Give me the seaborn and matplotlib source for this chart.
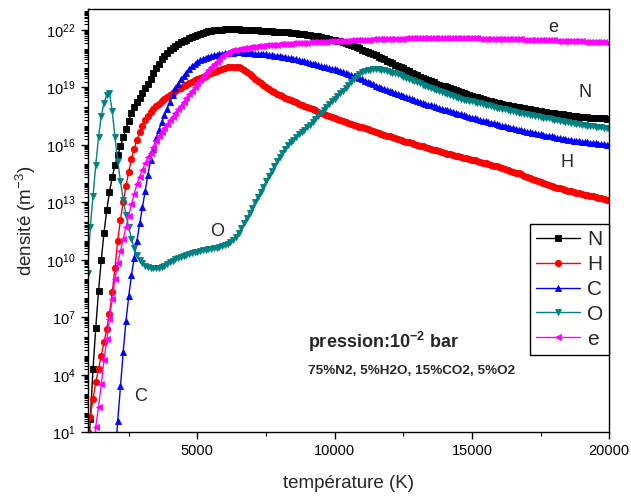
import numpy as np
import pandas as pd
import matplotlib
matplotlib.use("Agg")
import matplotlib.pyplot as plt
import seaborn as sns
from matplotlib.ticker import FixedLocator, LogFormatterSciNotation, NullFormatter

# temperature grid (K), 100 K sampling as in the source plot
temperature = np.arange(1000, 20001, 100)

nan = np.nan
# log10 of the densities (m^-3)
log_N = [
    -1.0, 1.7, 4.3, 6.45, 8.35, 10.0, 11.4, 12.6, 13.55, 14.3,
    14.95, 15.45, 15.92, 16.4, 16.85, 17.25, 17.65, 17.97, 18.22, 18.47,
    18.72, 18.97, 19.2, 19.45, 19.75, 20.0, 20.25, 20.47, 20.65, 20.8,
    20.93, 21.05, 21.16, 21.26, 21.35, 21.43, 21.5, 21.57, 21.64, 21.7,
    21.76, 21.81, 21.86, 21.9, 21.93, 21.96, 21.98, 22.0, 22.01, 22.02,
    22.03, 22.03, 22.03, 22.03, 22.03, 22.03, 22.02, 22.02, 22.01, 22.0,
    22.0, 21.99, 21.98, 21.97, 21.96, 21.95, 21.94, 21.93, 21.92, 21.91,
    21.9, 21.89, 21.88, 21.87, 21.86, 21.85, 21.83, 21.81, 21.79, 21.77,
    21.75, 21.73, 21.71, 21.69, 21.66, 21.63, 21.6, 21.57, 21.54, 21.5,
    21.47, 21.44, 21.4, 21.36, 21.31, 21.26, 21.21, 21.16, 21.1, 21.04,
    20.98, 20.92, 20.86, 20.8, 20.73, 20.67, 20.61, 20.54, 20.47, 20.4,
    20.33, 20.26, 20.19, 20.12, 20.06, 19.99, 19.92, 19.85, 19.78, 19.71,
    19.64, 19.57, 19.5, 19.44, 19.38, 19.32, 19.26, 19.2, 19.15, 19.1,
    19.05, 19.0, 18.95, 18.9, 18.85, 18.8, 18.76, 18.71, 18.66, 18.61,
    18.56, 18.52, 18.48, 18.43, 18.39, 18.35, 18.31, 18.28, 18.24, 18.21,
    18.17, 18.14, 18.11, 18.08, 18.05, 18.02, 17.99, 17.96, 17.94, 17.91,
    17.88, 17.86, 17.83, 17.81, 17.78, 17.76, 17.74, 17.71, 17.69, 17.67,
    17.65, 17.63, 17.61, 17.59, 17.57, 17.55, 17.53, 17.51, 17.49, 17.47,
    17.46, 17.45, 17.44, 17.43, 17.42, 17.41, 17.4, 17.39, 17.38, 17.37,
    17.36,
]
log_H = [
    1.0, 1.8, 2.75, 3.6, 4.3, 5.0, 5.7, 6.4, 7.2, 8.3,
    9.6, 11.0, 12.1, 13.0, 13.85, 14.6, 15.25, 15.8, 16.25, 16.65,
    17.0, 17.3, 17.52, 17.72, 17.88, 18.02, 18.15, 18.27, 18.38, 18.5,
    18.6, 18.7, 18.8, 18.9, 18.98, 19.06, 19.14, 19.22, 19.3, 19.37,
    19.44, 19.5, 19.56, 19.62, 19.68, 19.74, 19.8, 19.86, 19.92, 19.97,
    20.02, 20.06, 20.08, 20.09, 20.08, 20.05, 20.0, 19.92, 19.82, 19.7,
    19.58, 19.46, 19.35, 19.24, 19.13, 19.03, 18.93, 18.84, 18.75, 18.67,
    18.6, 18.53, 18.46, 18.4, 18.34, 18.28, 18.22, 18.16, 18.1, 18.04,
    17.98, 17.92, 17.86, 17.8, 17.74, 17.68, 17.62, 17.56, 17.5, 17.44,
    17.39, 17.34, 17.29, 17.24, 17.19, 17.14, 17.09, 17.05, 17.0, 16.96,
    16.91, 16.86, 16.82, 16.77, 16.72, 16.67, 16.62, 16.58, 16.53, 16.48,
    16.44, 16.39, 16.35, 16.3, 16.26, 16.22, 16.17, 16.13, 16.09, 16.05,
    16.0, 15.96, 15.92, 15.88, 15.83, 15.79, 15.75, 15.71, 15.67, 15.63,
    15.59, 15.55, 15.51, 15.48, 15.44, 15.4, 15.37, 15.33, 15.3, 15.26,
    15.22, 15.19, 15.15, 15.12, 15.08, 15.04, 15.0, 14.96, 14.92, 14.88,
    14.84, 14.8, 14.75, 14.71, 14.66, 14.61, 14.56, 14.51, 14.46, 14.4,
    14.34, 14.28, 14.22, 14.16, 14.1, 14.05, 14.0, 13.95, 13.9, 13.85,
    13.81, 13.77, 13.73, 13.69, 13.65, 13.61, 13.57, 13.54, 13.5, 13.47,
    13.44, 13.41, 13.38, 13.34, 13.31, 13.28, 13.24, 13.21, 13.17, 13.14,
    13.1,
]
log_C = [
    nan, nan, nan, nan, nan, nan, nan, nan, nan, nan,
    -0.5, 1.6, 3.4, 5.2, 6.8, 8.1, 9.2, 10.1, 11.0, 11.9,
    12.75, 13.6, 14.45, 15.2, 15.8, 16.35, 16.8, 17.2, 17.55, 17.9,
    18.25, 18.6, 18.95, 19.2, 19.42, 19.6, 19.78, 19.95, 20.1, 20.22,
    20.33, 20.42, 20.5, 20.56, 20.61, 20.65, 20.68, 20.71, 20.74, 20.76,
    20.78, 20.8, 20.81, 20.82, 20.83, 20.83, 20.83, 20.82, 20.81, 20.8,
    20.79, 20.77, 20.76, 20.74, 20.73, 20.72, 20.7, 20.68, 20.66, 20.64,
    20.62, 20.6, 20.58, 20.55, 20.52, 20.49, 20.46, 20.43, 20.4, 20.37,
    20.33, 20.29, 20.25, 20.21, 20.17, 20.13, 20.09, 20.05, 20.01, 19.97,
    19.94, 19.91, 19.88, 19.83, 19.77, 19.7, 19.64, 19.59, 19.54, 19.48,
    19.42, 19.35, 19.29, 19.22, 19.16, 19.09, 19.03, 18.98, 18.92, 18.87,
    18.81, 18.76, 18.71, 18.65, 18.6, 18.55, 18.5, 18.45, 18.4, 18.35,
    18.3, 18.25, 18.2, 18.16, 18.11, 18.06, 18.02, 17.97, 17.92, 17.88,
    17.84, 17.8, 17.76, 17.72, 17.68, 17.64, 17.6, 17.56, 17.51, 17.47,
    17.43, 17.39, 17.34, 17.3, 17.26, 17.23, 17.19, 17.15, 17.12, 17.08,
    17.04, 17.0, 16.97, 16.93, 16.9, 16.86, 16.83, 16.79, 16.76, 16.73,
    16.7, 16.67, 16.64, 16.61, 16.58, 16.55, 16.52, 16.49, 16.46, 16.44,
    16.41, 16.38, 16.35, 16.33, 16.3, 16.28, 16.25, 16.23, 16.2, 16.18,
    16.16, 16.15, 16.13, 16.11, 16.1, 16.08, 16.06, 16.05, 16.03, 16.02,
    16.0,
]
log_O = [
    9.3, 11.7, 13.35, 14.95, 16.4, 17.5, 18.2, 18.6, 18.72, 17.75,
    16.4, 15.15, 14.1, 13.15, 12.35, 11.7, 11.1, 10.6, 10.25, 10.0,
    9.82, 9.7, 9.62, 9.57, 9.55, 9.55, 9.57, 9.62, 9.7, 9.78,
    9.87, 9.95, 10.03, 10.1, 10.16, 10.22, 10.27, 10.32, 10.36, 10.4,
    10.43, 10.46, 10.49, 10.52, 10.55, 10.58, 10.61, 10.64, 10.67, 10.71,
    10.76, 10.83, 10.92, 11.05, 11.22, 11.42, 11.65, 11.9, 12.17, 12.45,
    12.73, 13.0, 13.28, 13.55, 13.82, 14.1, 14.38, 14.65, 14.9, 15.14,
    15.38, 15.6, 15.8, 15.97, 16.13, 16.28, 16.42, 16.55, 16.68, 16.8,
    16.92, 17.05, 17.18, 17.33, 17.5, 17.67, 17.82, 17.97, 18.12, 18.27,
    18.42, 18.56, 18.7, 18.84, 18.98, 19.12, 19.28, 19.45, 19.6, 19.72,
    19.8, 19.86, 19.9, 19.93, 19.95, 19.95, 19.94, 19.92, 19.9, 19.87,
    19.83, 19.78, 19.73, 19.68, 19.63, 19.57, 19.51, 19.45, 19.39, 19.33,
    19.27, 19.21, 19.15, 19.09, 19.03, 18.97, 18.91, 18.85, 18.79, 18.74,
    18.69, 18.64, 18.59, 18.54, 18.49, 18.45, 18.41, 18.37, 18.34, 18.3,
    18.27, 18.24, 18.2, 18.17, 18.13, 18.1, 18.06, 18.02, 17.99, 17.95,
    17.91, 17.88, 17.85, 17.81, 17.78, 17.75, 17.72, 17.69, 17.66, 17.63,
    17.6, 17.57, 17.54, 17.52, 17.49, 17.46, 17.43, 17.4, 17.38, 17.35,
    17.32, 17.29, 17.26, 17.23, 17.21, 17.18, 17.15, 17.13, 17.1, 17.08,
    17.05, 17.03, 17.01, 16.99, 16.97, 16.95, 16.93, 16.91, 16.89, 16.87,
    16.85,
]
log_e = [
    nan, nan, -1.0, 1.3, 2.3, 3.5, 4.75, 5.85, 6.9, 7.95,
    9.0, 9.85, 10.45, 11.1, 11.7, 12.3, 12.9, 13.45, 13.95, 14.35,
    14.7, 15.05, 15.35, 15.6, 15.9, 16.2, 16.45, 16.7, 16.9, 17.1,
    17.3, 17.48, 17.67, 17.86, 18.05, 18.25, 18.45, 18.64, 18.83, 19.02,
    19.21, 19.4, 19.57, 19.74, 19.9, 20.05, 20.2, 20.35, 20.5, 20.62,
    20.73, 20.82, 20.88, 20.93, 20.97, 21.0, 21.03, 21.05, 21.07, 21.09,
    21.11, 21.13, 21.14, 21.16, 21.17, 21.19, 21.2, 21.21, 21.22, 21.24,
    21.25, 21.26, 21.27, 21.28, 21.29, 21.3, 21.31, 21.31, 21.32, 21.33,
    21.34, 21.35, 21.35, 21.36, 21.37, 21.38, 21.39, 21.39, 21.4, 21.41,
    21.42, 21.42, 21.43, 21.44, 21.44, 21.45, 21.46, 21.46, 21.47, 21.47,
    21.48, 21.49, 21.5, 21.5, 21.51, 21.52, 21.52, 21.53, 21.53, 21.54,
    21.54, 21.54, 21.55, 21.55, 21.55, 21.55, 21.56, 21.56, 21.56, 21.56,
    21.56, 21.56, 21.56, 21.56, 21.56, 21.56, 21.56, 21.56, 21.56, 21.56,
    21.56, 21.56, 21.56, 21.56, 21.56, 21.56, 21.56, 21.56, 21.56, 21.56,
    21.56, 21.56, 21.56, 21.55, 21.55, 21.55, 21.55, 21.54, 21.54, 21.54,
    21.54, 21.53, 21.53, 21.53, 21.52, 21.52, 21.52, 21.51, 21.51, 21.5,
    21.5, 21.5, 21.49, 21.49, 21.48, 21.48, 21.48, 21.47, 21.47, 21.46,
    21.46, 21.45, 21.45, 21.44, 21.44, 21.43, 21.42, 21.42, 21.41, 21.41,
    21.4, 21.39, 21.39, 21.38, 21.37, 21.37, 21.36, 21.35, 21.35, 21.34,
    21.34,
]

species = ["N", "H", "C", "O", "e"]
series = [log_N, log_H, log_C, log_O, log_e]
colors = ["#000000", "#ff0000", "#0000ff", "#008080", "#ff00ff"]
markers = ["s", "o", "^", "v", "<"]
msizes = [4.2, 4.6, 4.8, 4.8, 4.8]

frames = []
for sp, vals in zip(species, series):
    frames.append(pd.DataFrame({"species": sp, "T": temperature,
                                "n": np.power(10.0, np.asarray(vals, dtype=float))}))
df = pd.concat(frames, ignore_index=True)

sns.set_theme(style="ticks")
plt.rcParams["font.family"] = ["Liberation Sans", "DejaVu Sans"]
plt.rcParams["mathtext.fontset"] = "custom"
plt.rcParams["mathtext.rm"] = "Liberation Sans"
plt.rcParams["mathtext.it"] = "Liberation Sans:italic"
plt.rcParams["mathtext.bf"] = "Liberation Sans:bold"

fig = plt.figure(figsize=(6.31, 5.0), dpi=100)
ax = fig.add_axes([0.1387, 0.1354, 0.8269, 0.846])

for sp, c, m, ms in zip(species, colors, markers, msizes):
    sub = df[df["species"] == sp].dropna()
    sns.lineplot(data=sub, x="T", y="n", ax=ax, color=c, marker=m,
                 markersize=ms, markeredgecolor=c, markeredgewidth=0.6,
                 linewidth=1.0, label=sp, errorbar=None, sort=False)

ax.set_yscale("log")
ax.set_xlim(1000, 20000)
ax.set_ylim(10, 1.2e23)

# ticks
ax.xaxis.set_major_locator(FixedLocator([5000, 10000, 15000, 20000]))
ax.xaxis.set_minor_locator(FixedLocator([2500, 7500, 12500, 17500]))
major_y = [10.0 ** k for k in range(1, 23, 3)]
minor_y = [m * 10.0 ** k for k in range(1, 23) for m in range(1, 10)
           if not (m == 1 and (k - 1) % 3 == 0)] + [1e23]
ax.yaxis.set_major_locator(FixedLocator(major_y))
ax.yaxis.set_minor_locator(FixedLocator(minor_y))
ax.yaxis.set_major_formatter(LogFormatterSciNotation())
ax.yaxis.set_minor_formatter(NullFormatter())
ax.tick_params(axis="both", which="major", direction="out", length=5, width=1,
               color="black", labelsize=10.5, labelcolor="black",
               bottom=True, left=True, top=False, right=False)
ax.tick_params(axis="both", which="minor", direction="out", length=3, width=0.8,
               color="black", bottom=True, left=True, top=False, right=False)
for s in ax.spines.values():
    s.set_visible(True)
    s.set_color("black")
    s.set_linewidth(1.0)

ax.set_xlabel("température (K)", fontsize=13.5, labelpad=12)
ax.set_ylabel("densité (m$^{-3}$)", fontsize=13.5, labelpad=6)

# curve labels
lbl_kw = dict(transform=ax.transAxes, fontsize=13, ha="center", va="center")
ax.text(0.892, 0.958, "e", **lbl_kw)
ax.text(0.953, 0.804, "N", **lbl_kw)
ax.text(0.919, 0.639, "H", **lbl_kw)
ax.text(0.248, 0.474, "O", **lbl_kw)
ax.text(0.1025, 0.0835, "C", **lbl_kw)

ax.text(0.4226, 0.2142, r"pression:10$^{\mathbf{-2}}$ bar", transform=ax.transAxes,
        fontsize=13, fontweight="bold", ha="left", va="center")
ax.text(0.4226, 0.1456, "75%N2, 5%H2O, 15%CO2, 5%O2", transform=ax.transAxes,
        fontsize=9.7, fontweight="bold", ha="left", va="center")

handles, labels = ax.get_legend_handles_labels()
leg = ax.legend(handles, labels, loc="upper right", bbox_to_anchor=(1.0, 0.4924),
                borderaxespad=0.0, fontsize=15, frameon=True, fancybox=False,
                edgecolor="black", framealpha=1.0, numpoints=1,
                handlelength=2.1, handletextpad=0.35, labelspacing=0.28,
                borderpad=0.3)
leg.get_frame().set_linewidth(1.0)

fig.savefig("out.png", dpi=100)
